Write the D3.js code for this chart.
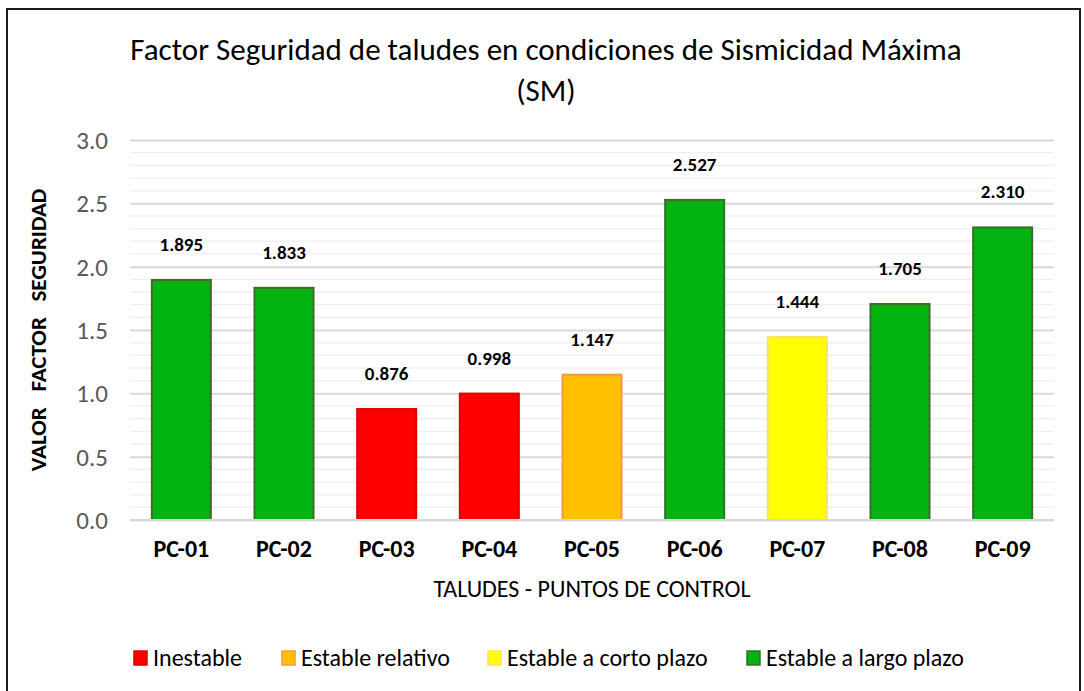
<!DOCTYPE html>
<html>
<head>
<meta charset="utf-8">
<script src="https://cdn.jsdelivr.net/npm/d3@7"></script>
<style>
  html, body { margin: 0; padding: 0; background: #fff; }
  svg { display: block; }
  text { font-family: Carlito, "Liberation Sans Narrow", "Open Sans", sans-serif; }
</style>
</head>
<body>
<svg id="chart" width="1084" height="691"></svg>
<script>
// Control points and their safety factor under maximum seismicity
const categories = ["PC-01", "PC-02", "PC-03", "PC-04", "PC-05", "PC-06", "PC-07", "PC-08", "PC-09"];
const values = [1.895, 1.833, 0.876, 0.998, 1.147, 2.527, 1.444, 1.705, 2.310];
const status = ["largo", "largo", "inestable", "inestable", "relativo", "largo", "corto", "largo", "largo"];
const yTicks = [0, 0.5, 1.0, 1.5, 2.0, 2.5, 3.0];

// Stability classes for the legend
const classKeys = ["inestable", "relativo", "corto", "largo"];
const classLabels = ["Inestable", "Estable relativo", "Estable a corto plazo", "Estable a largo plazo"];
const classFill = { inestable: "#FF0000", relativo: "#FFC000", corto: "#FFFF00", largo: "#03B312" };
const classStroke = { inestable: "#E00000", relativo: "#F79646", corto: "#FFE060", largo: "#3E6B2A" };

const FONT = 'Carlito, "Liberation Sans Narrow", "Open Sans", sans-serif';
const svg = d3.select("#chart");
const W = 1084, H = 691;
const plot = { left: 130, right: 1054, top: 140, bottom: 520 };

svg.append("rect").attr("width", W).attr("height", H).attr("fill", "#fff");
svg.append("rect")
  .attr("x", 7).attr("y", 9).attr("width", 1073).attr("height", 700)
  .attr("fill", "none").attr("stroke", "#1a1a1a").attr("stroke-width", 2);

const x = d3.scaleBand().domain(categories)
  .range([plot.left, plot.right]).paddingInner(0.425).paddingOuter(0.2125);
const y = d3.scaleLinear().domain([0, 3]).range([plot.bottom, plot.top]);

// Minor gridlines every 0.1
const minor = d3.range(0, 31).map(i => i / 10).filter(v => Math.round(v * 10) % 5 !== 0);
svg.append("g").selectAll("line").data(minor).join("line")
  .attr("x1", plot.left).attr("x2", plot.right)
  .attr("y1", d => y(d)).attr("y2", d => y(d))
  .attr("stroke", "#F0F0F0").attr("stroke-width", 1.5);

// Major gridlines + tick labels via axis
const yAxis = d3.axisLeft(y).tickValues(yTicks).tickFormat(d3.format(".1f"))
  .tickSize(-(plot.right - plot.left)).tickPadding(22);
const gy = svg.append("g").attr("transform", `translate(${plot.left},0)`).call(yAxis);
gy.select(".domain").remove();
gy.selectAll(".tick line").attr("stroke", "#D9D9D9").attr("stroke-width", 2);
gy.selectAll(".tick text").attr("fill", "#595959").attr("font-size", 25)
  .attr("dy", "0.34em").style("font-family", FONT);

// Bars
svg.append("g").selectAll("rect").data(categories).join("rect")
  .attr("x", d => x(d)).attr("width", x.bandwidth())
  .attr("y", (d, i) => y(values[i])).attr("height", (d, i) => y(0) - y(values[i]))
  .attr("fill", (d, i) => classFill[status[i]])
  .attr("stroke", (d, i) => classStroke[status[i]]).attr("stroke-width", 2);

// Baseline
svg.append("line").attr("x1", plot.left).attr("x2", plot.right)
  .attr("y1", y(0)).attr("y2", y(0)).attr("stroke", "#D9D9D9").attr("stroke-width", 2);

// Value labels above each bar
svg.append("g").selectAll("text").data(categories).join("text")
  .attr("x", d => x(d) + x.bandwidth() / 2)
  .attr("y", (d, i) => y(values[i]) - 29)
  .attr("text-anchor", "middle").attr("font-size", 19).attr("font-weight", "bold")
  .attr("fill", "#000")
  .text((d, i) => d3.format(".3f")(values[i]));

// Category labels
const xAxis = d3.axisBottom(x).tickSize(0);
const gx = svg.append("g").attr("transform", `translate(0,${plot.bottom})`).call(xAxis);
gx.select(".domain").remove();
gx.selectAll(".tick text").attr("y", 37).attr("dy", 0)
  .attr("font-size", 24).attr("font-weight", "bold").attr("fill", "#000")
  .style("font-family", FONT);

// Titles
const title = svg.append("text").attr("text-anchor", "middle").attr("font-size", 31).attr("fill", "#000");
title.append("tspan").attr("x", 546).attr("y", 60).text("Factor Seguridad de taludes en condiciones de Sismicidad Máxima");
title.append("tspan").attr("x", 546).attr("y", 101).text("(SM)");

svg.append("text").attr("x", 592).attr("y", 597).attr("text-anchor", "middle")
  .attr("font-size", 24).attr("fill", "#000").text("TALUDES - PUNTOS DE CONTROL");

svg.append("text").attr("transform", `translate(46,${(plot.top + plot.bottom) / 2}) rotate(-90)`)
  .attr("text-anchor", "middle").attr("font-size", 23).attr("font-weight", "bold").attr("fill", "#000")
  .attr("xml:space", "preserve")
  .text("VALOR   FACTOR   SEGURIDAD");

// Legend
const legendX = [134, 282, 488, 747];
const lg = svg.append("g").selectAll("g").data(classKeys).join("g")
  .attr("transform", (d, i) => `translate(${legendX[i]},651)`);
lg.append("rect").attr("width", 13).attr("height", 14)
  .attr("fill", d => classFill[d]).attr("stroke", d => classStroke[d]).attr("stroke-width", 1.5);
lg.append("text").attr("x", 19).attr("y", 15).attr("font-size", 24).attr("fill", "#000")
  .text((d, i) => classLabels[i]);
</script>
</body>
</html>
